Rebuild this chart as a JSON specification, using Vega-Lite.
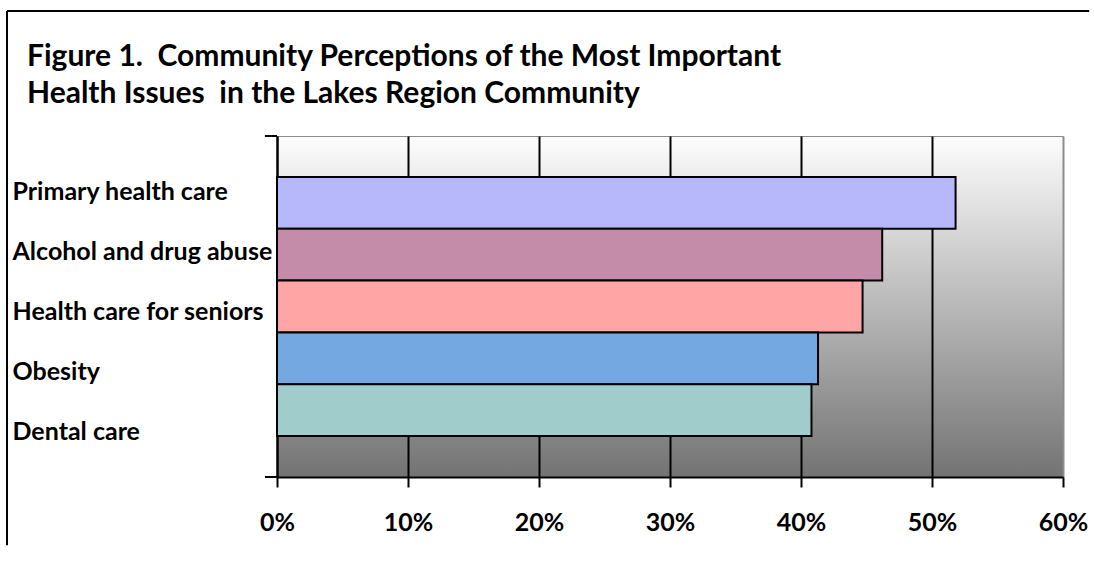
{
  "$schema": "https://vega.github.io/schema/vega-lite/v6.json",
  "width": 786,
  "height": 341,
  "autosize": "none",
  "padding": {"left": 277, "top": 136, "right": 31, "bottom": 90},
  "background": "white",
  "config": {
    "font": "Lato",
    "view": {
      "stroke": "#8c8c8c",
      "strokeWidth": 1,
      "fill": {
        "gradient": "linear",
        "x1": 0, "y1": 0, "x2": 0, "y2": 1,
        "stops": [
          {"offset": 0, "color": "#fdfdfd"},
          {"offset": 1, "color": "#737373"}
        ]
      }
    }
  },
  "title": {
    "text": ["Figure 1.\u00a0 Community Perceptions of the Most Important", "Health Issues\u00a0 in the Lakes Region Community"],
    "anchor": "start",
    "frame": "group",
    "dx": -250,
    "baseline": "bottom",
    "offset": -129,
    "font": "Lato",
    "fontSize": 30,
    "fontWeight": "bold",
    "lineHeight": 37,
    "color": "black"
  },
  "datasets": {
    "issues": [
      {"issue": "Primary health care", "share": 0.518},
      {"issue": "Alcohol and drug abuse", "share": 0.462},
      {"issue": "Health care for seniors", "share": 0.447},
      {"issue": "Obesity", "share": 0.413},
      {"issue": "Dental care", "share": 0.408}
    ],
    "frame": [{"part": "border"}]
  },
  "resolve": {"scale": {"y": "independent"}},
  "layer": [
    {
      "data": {"name": "issues"},
      "mark": {"type": "bar", "stroke": "black", "strokeWidth": 2, "opacity": 1},
      "encoding": {
        "y": {
          "field": "issue",
          "type": "nominal",
          "sort": null,
          "scale": {"paddingInner": 0, "paddingOuter": 0.79},
          "axis": null
        },
        "x": {
          "field": "share",
          "type": "quantitative",
          "scale": {"domain": [0, 0.6], "nice": false},
          "axis": {
            "title": null,
            "format": ".0%",
            "values": [0, 0.1, 0.2, 0.3, 0.4, 0.5, 0.6],
            "grid": true,
            "gridColor": {"condition": {"test": "datum.value >= 0.59", "value": "#8c8c8c"}, "value": "black"},
            "gridWidth": 2,
            "gridOpacity": 1,
            "domainColor": "black",
            "domainWidth": 2,
            "tickColor": "black",
            "tickWidth": 2,
            "tickSize": 10,
            "labelFont": "Lato",
            "labelFontSize": 25,
            "labelFontWeight": "bold",
            "labelColor": "black",
            "labelPadding": 23,
            "labelFlush": false,
            "labelOverlap": false
          }
        },
        "color": {
          "field": "issue",
          "type": "nominal",
          "scale": {
            "domain": ["Primary health care", "Alcohol and drug abuse", "Health care for seniors", "Obesity", "Dental care"],
            "range": ["#b7b7fc", "#c48ca8", "#ffa5a5", "#74a8e0", "#a0cccc"]
          },
          "legend": null
        }
      }
    },
    {
      "data": {"name": "issues"},
      "mark": {"type": "point", "opacity": 0},
      "encoding": {
        "x": {"datum": 0, "type": "quantitative"},
        "y": {
          "field": "issue",
          "type": "nominal",
          "sort": null,
          "scale": {"padding": 0.842, "align": 0.554},
          "axis": {
            "orient": "left",
            "title": null,
            "ticks": false,
            "domain": true,
            "domainColor": "black",
            "domainWidth": 2,
            "labelAlign": "left",
            "labelBaseline": "middle",
            "labelPadding": 265,
            "labelFont": "Lato",
            "labelFontSize": 25,
            "labelFontWeight": "bold",
            "labelColor": "black",
            "labelLimit": 0
          }
        }
      }
    },
    {
      "data": {"name": "frame"},
      "mark": {"type": "rule", "stroke": "black", "strokeWidth": 2},
      "encoding": {
        "x": {"datum": -0.2061, "type": "quantitative"},
        "x2": {"datum": 0.62},
        "y": {"datum": 1.3666, "type": "quantitative", "scale": {"domain": [0, 1], "nice": false, "zero": false}, "axis": null}
      }
    },
    {
      "data": {"name": "frame"},
      "mark": {"type": "rule", "stroke": "black", "strokeWidth": 2},
      "encoding": {
        "x": {"datum": -0.2061, "type": "quantitative"},
        "y": {"datum": 1.3666, "type": "quantitative", "scale": {"domain": [0, 1], "nice": false, "zero": false}, "axis": null},
        "y2": {"datum": -0.2}
      }
    },
    {
      "data": {"name": "frame"},
      "mark": {"type": "rule", "stroke": "black", "strokeWidth": 2},
      "encoding": {
        "x": {"datum": -0.0092, "type": "quantitative"},
        "x2": {"datum": 0},
        "y": {"datum": 1, "type": "quantitative", "scale": {"domain": [0, 1], "nice": false, "zero": false}, "axis": null}
      }
    },
    {
      "data": {"name": "frame"},
      "mark": {"type": "rule", "stroke": "black", "strokeWidth": 2},
      "encoding": {
        "x": {"datum": -0.0092, "type": "quantitative"},
        "x2": {"datum": 0},
        "y": {"datum": 0, "type": "quantitative", "scale": {"domain": [0, 1], "nice": false, "zero": false}, "axis": null}
      }
    }
  ]
}
